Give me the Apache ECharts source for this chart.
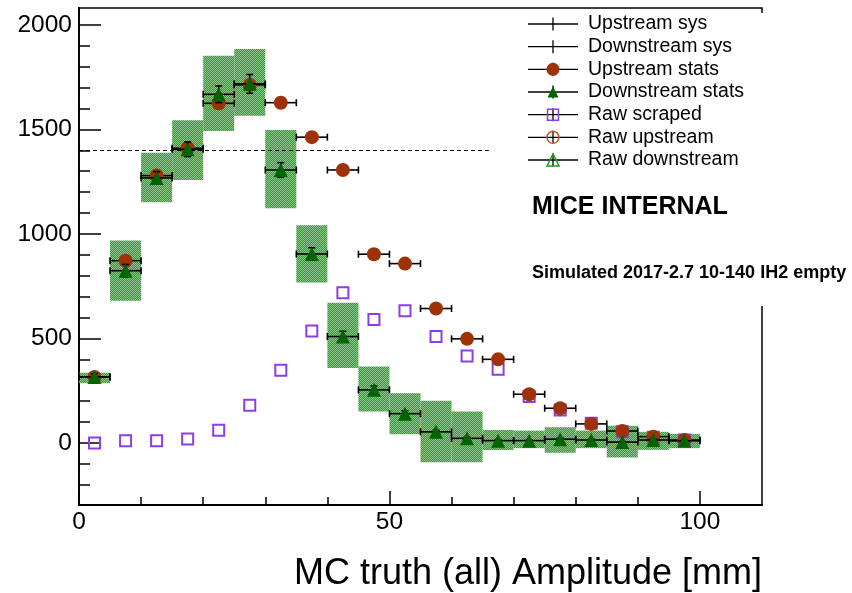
<!DOCTYPE html>
<html><head><meta charset="utf-8">
<script src="https://cdn.jsdelivr.net/npm/echarts@6/dist/echarts.min.js"></script>
<style>html,body{margin:0;padding:0;background:#fff}#c{width:852px;height:593px}</style>
</head><body><div id="c"></div>
<script>
// ---------- data ----------
const binCenters = [2.5, 7.5, 12.5, 17.5, 22.5, 27.5, 32.5, 37.5, 42.5, 47.5, 52.5, 57.5, 62.5, 67.5, 72.5, 77.5, 82.5, 87.5, 92.5, 97.5];
const binHalfWidth = 2.5;
const upstreamStats = [316, 872, 1279, 1410, 1625, 1713, 1628, 1463, 1306, 903, 858, 643, 498, 400, 233, 166, 91, 57, 30, 14];
const upstreamStatErr = [10, 18, 20, 22, 24, 25, 24, 23, 22, 18, 17, 15, 13, 12, 9, 8, 6, 5, 3, 2];
const downstreamStats = [316, 824, 1268, 1405, 1668, 1718, 1306, 904, 509, 254, 140, 53, 22, 11, 11, 18, 14, 4, 14, 10];
const downstreamStatErr = [15, 30, 30, 35, 40, 45, 35, 30, 25, 18, 14, 8, 5, 4, 4, 5, 4, 2, 4, 3];
const downstreamSysCenter = [311, 824, 1270, 1401, 1673, 1725, 1310, 905, 515, 258, 140, 55, 29, 14, 17, 14, 17, 6, 10, 9];
const downstreamSysErr = [25, 144, 118, 143, 180, 160, 187, 137, 156, 108, 98, 147, 121, 48, 42, 61, 42, 76, 43, 34];
const rawScraped = [0, 11, 11, 19, 61, 180, 348, 536, 719, 590, 632, 509, 416, 353, 222, 158, 94, 54, 27, 14];
const refLine = {y: 1400, xStart: 0, xEnd: 66};
const xMajorTicks = [0, 50, 100];
const xMinorTicks = [10, 20, 30, 40, 60, 70, 80, 90];
const yMajorTicks = [0, 500, 1000, 1500, 2000];
const yMinorTicks = [-200, -100, 100, 200, 300, 400, 600, 700, 800, 900, 1100, 1200, 1300, 1400, 1600, 1700, 1800, 1900];
const legendNames = ['Upstream sys', 'Downstream sys', 'Upstream stats', 'Downstream stats', 'Raw scraped', 'Raw upstream', 'Raw downstream'];
const xTitle = 'MC truth (all) Amplitude [mm]';
const label1 = 'MICE INTERNAL';
const label2 = 'Simulated 2017-2.7 10-140 IH2 empty';

// ---------- styles ----------
const FONT = '"Liberation Sans", Arial, Helvetica, sans-serif';
const C_UP = '#9e3206';
const C_DN = '#006400';
const C_RAW = '#8b3ee6';
const C_RAWUP = '#c0602c';

// hatch-like fill pattern for systematic boxes
const pc = document.createElement('canvas');
pc.width = 2; pc.height = 2;
const pctx = pc.getContext('2d');
pctx.fillStyle = '#3a933a'; pctx.fillRect(0, 0, 2, 2);
pctx.fillStyle = '#8cc78c'; pctx.fillRect(0, 0, 1, 1); pctx.fillRect(1, 1, 1, 1);
const hatch = {image: pc, repeat: 'repeat'};

const chart = echarts.init(document.getElementById('c'), null, {renderer: 'canvas'});

const zip = (ys, es) => binCenters.map((x, i) => [x, ys[i], es ? es[i] : 0]);

function errBars(params, api) {
  const x = api.value(0), y = api.value(1), e = api.value(2);
  const l = api.coord([x - binHalfWidth, y]);
  const r = api.coord([x + binHalfWidth, y]);
  const t = api.coord([x, y + e]);
  const b = api.coord([x, y - e]);
  const cap = 3.5;
  const st = {stroke: '#000', lineWidth: 1.6};
  return {type: 'group', children: [
    {type: 'line', shape: {x1: l[0], y1: l[1], x2: r[0], y2: r[1]}, style: st},
    {type: 'line', shape: {x1: l[0], y1: l[1] - cap, x2: l[0], y2: l[1] + cap}, style: st},
    {type: 'line', shape: {x1: r[0], y1: r[1] - cap, x2: r[0], y2: r[1] + cap}, style: st},
    {type: 'line', shape: {x1: t[0], y1: t[1], x2: b[0], y2: b[1]}, style: st},
    {type: 'line', shape: {x1: t[0] - cap, y1: t[1], x2: t[0] + cap, y2: t[1]}, style: st},
    {type: 'line', shape: {x1: b[0] - cap, y1: b[1], x2: b[0] + cap, y2: b[1]}, style: st}
  ]};
}
function sysBoxes(params, api) {
  const x = api.value(0), y = api.value(1), e = api.value(2);
  const p1 = api.coord([x - binHalfWidth, y + e]);
  const p2 = api.coord([x + binHalfWidth, y - e]);
  return {type: 'rect', shape: {x: p1[0], y: p1[1], width: p2[0] - p1[0], height: p2[1] - p1[1]}, style: {fill: hatch}};
}

// ---------- legend (drawn) ----------
const LX0 = 528, LX1 = 578, LXM = 553, LTX = 588, LY0 = 24, LDY = 22.67;
const legendChildren = [{type: 'rect', shape: {x: 516, y: 13, width: 290, height: 293}, style: {fill: '#fff'}}];
legendNames.forEach((name, i) => {
  const y = LY0 + i * LDY;
  legendChildren.push({type: 'line', shape: {x1: LX0, y1: y, x2: LX1, y2: y}, style: {stroke: '#000', lineWidth: 1.3}});
  legendChildren.push({type: 'line', shape: {x1: LXM, y1: y - 6.5, x2: LXM, y2: y + 6.5}, style: {stroke: '#000', lineWidth: 1.3}});
  if (i === 2) legendChildren.push({type: 'circle', shape: {cx: LXM, cy: y, r: 6.5}, style: {fill: C_UP}});
  if (i === 3) legendChildren.push({type: 'polygon', shape: {points: [[LXM, y - 5.5], [LXM - 5.5, y + 5.5], [LXM + 5.5, y + 5.5]]}, style: {fill: C_DN}});
  if (i === 4) legendChildren.push({type: 'rect', shape: {x: LXM - 5.5, y: y - 5.5, width: 11, height: 11}, style: {fill: 'none', stroke: C_RAW, lineWidth: 1.5}});
  if (i === 5) legendChildren.push({type: 'circle', shape: {cx: LXM, cy: y, r: 6}, style: {fill: 'none', stroke: C_RAWUP, lineWidth: 1.5}});
  if (i === 6) legendChildren.push({type: 'polygon', shape: {points: [[LXM, y - 6], [LXM - 6, y + 6], [LXM + 6, y + 6]]}, style: {fill: 'none', stroke: '#1e9a1e', lineWidth: 1.5}});
  legendChildren.push({type: 'text', x: LTX, y: y, style: {text: name, font: '19.5px ' + FONT, fill: '#000', textVerticalAlign: 'middle'}});
});
legendChildren.push({type: 'text', x: 532, y: 207, style: {text: label1, font: 'bold 25px ' + FONT, fill: '#000', textVerticalAlign: 'middle'}});
legendChildren.push({type: 'text', x: 532, y: 273, style: {text: label2, font: 'bold 18px ' + FONT, fill: '#000', textVerticalAlign: 'middle'}});

const yMin = -297, yMax = 2081;
const axisBase = {min: 0, max: 110, type: 'value', splitLine: {show: false}};
const plainNum = v => String(v);
const option = {
  animation: false,
  backgroundColor: '#fff',
  grid: {left: 79, top: 8, width: 683, height: 497, show: true, borderColor: '#000', borderWidth: 1.5, backgroundColor: 'transparent'},
  xAxis: [
    Object.assign({}, axisBase, {
      position: 'bottom',
      axisLine: {show: true, onZero: false, lineStyle: {color: '#000', width: 1.8}},
      axisTick: {show: true, inside: true, length: 14, customValues: xMajorTicks, lineStyle: {color: '#000', width: 1.5}},
      axisLabel: {show: true, customValues: xMajorTicks, formatter: plainNum, color: '#000', fontSize: 24.5, fontFamily: FONT, margin: 5},
      name: xTitle, nameLocation: 'end', nameGap: 0,
      nameTextStyle: {fontSize: 36, fontFamily: FONT, color: '#000', align: 'right', verticalAlign: 'top', padding: [51, 0, 0, 0]}
    }),
    Object.assign({}, axisBase, {
      position: 'bottom',
      axisLine: {show: false, onZero: false},
      axisTick: {show: true, inside: true, length: 8, customValues: xMinorTicks, lineStyle: {color: '#000', width: 1.5}},
      axisLabel: {show: false}
    })
  ],
  yAxis: [
    {type: 'value', min: yMin, max: yMax, position: 'left', splitLine: {show: false},
      axisLine: {show: true, onZero: false, lineStyle: {color: '#000', width: 1.8}},
      axisTick: {show: true, inside: true, length: 22, customValues: yMajorTicks, lineStyle: {color: '#000', width: 1.5}},
      axisLabel: {show: true, customValues: yMajorTicks, formatter: plainNum, color: '#000', fontSize: 24.5, fontFamily: FONT, margin: 7}},
    {type: 'value', min: yMin, max: yMax, position: 'left', splitLine: {show: false},
      axisLine: {show: false, onZero: false},
      axisTick: {show: true, inside: true, length: 11, customValues: yMinorTicks, lineStyle: {color: '#000', width: 1.5}},
      axisLabel: {show: false}}
  ],
  graphic: [{type: 'group', z: 100, children: legendChildren}],
  series: [
    {name: 'Downstream sys', type: 'custom', renderItem: sysBoxes, data: zip(downstreamSysCenter, downstreamSysErr), z: 1, silent: true},
    {name: 'Raw scraped', type: 'scatter', data: zip(rawScraped).map(d => [d[0], d[1]]), symbol: 'rect', symbolSize: 11,
      itemStyle: {color: 'rgba(255,255,255,0)', borderColor: C_RAW, borderWidth: 2, opacity: 1}, z: 2,
      markLine: {silent: true, symbol: ['none', 'none'], label: {show: false},
        lineStyle: {color: '#000', type: [4, 3], width: 1},
        data: [[{coord: [refLine.xStart, refLine.y]}, {coord: [refLine.xEnd, refLine.y]}]]}},
    {name: 'Upstream sys', type: 'custom', renderItem: errBars, data: zip(upstreamStats, upstreamStatErr), z: 3, silent: true},
    {name: 'Upstream stats', type: 'scatter', data: zip(upstreamStats).map(d => [d[0], d[1]]), symbol: 'circle', symbolSize: 14,
      itemStyle: {color: C_UP, opacity: 1}, z: 4},
    {name: 'Downstream stats err', type: 'custom', renderItem: errBars, data: zip(downstreamStats, downstreamStatErr), z: 5, silent: true},
    {name: 'Downstream stats', type: 'scatter', data: zip(downstreamStats).map(d => [d[0], d[1]]), symbol: 'triangle', symbolSize: 14,
      itemStyle: {color: C_DN, opacity: 1}, z: 6}
  ]
};
chart.setOption(option);
</script></body></html>
